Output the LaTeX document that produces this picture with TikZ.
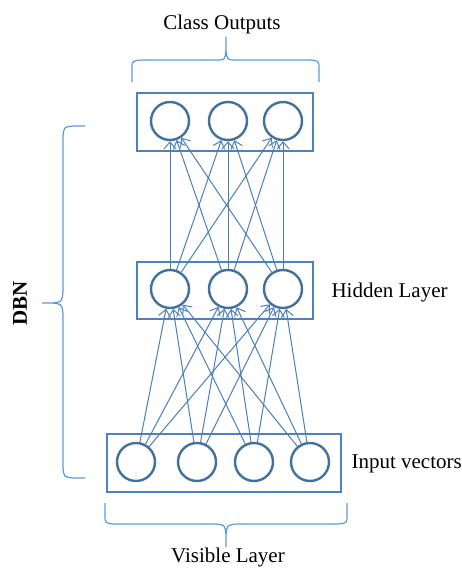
\documentclass[tikz,border=0pt]{standalone}
\usepackage{fontspec}
\setmainfont{Liberation Serif}
\usetikzlibrary{arrows.meta}

\definecolor{boxblue}{HTML}{4F81BD}
\definecolor{unitblue}{HTML}{41719C}
\definecolor{linkblue}{HTML}{4A7EBB}
\definecolor{braceblue}{HTML}{5B9BD5}

\begin{document}
\begin{tikzpicture}[x=1pt,y=-1pt,
  layerbox/.style={draw=boxblue, line width=1.6pt, inner sep=0pt},
  unit/.style={circle, draw=unitblue, line width=2.4pt, minimum size=38pt, inner sep=0pt},
  link/.style={draw=linkblue, line width=1pt, -{Straight Barb[length=7pt,width=12pt]}},
  bracepath/.style={draw=braceblue, line width=1.2pt},
  label/.style={font=\fontsize{21}{25}\selectfont}]
\useasboundingbox (0,0) rectangle (462,572);

% layer boxes
\node[layerbox, minimum width=176pt, minimum height=58pt] (outbox) at (225,122) {};
\node[layerbox, minimum width=176pt, minimum height=57pt] (hidbox) at (225,290.5) {};
\node[layerbox, minimum width=234pt, minimum height=58pt] (visbox) at (224,463) {};

% units
\node[unit] (o1) at (170,121) {};
\node[unit] (o2) at (228,121) {};
\node[unit] (o3) at (283,121) {};
\node[unit] (h1) at (170,289) {};
\node[unit] (h2) at (228,289) {};
\node[unit] (h3) at (283,289) {};
\node[unit] (v1) at (136,462) {};
\node[unit] (v2) at (197,462) {};
\node[unit] (v3) at (254,462) {};
\node[unit] (v4) at (310,462) {};

% connections
\foreach \i in {1,...,4}
  \foreach \j in {1,2,3}
    \draw[link] (v\i) -- (h\j);
\foreach \i in {1,2,3}
  \foreach \j in {1,2,3}
    \draw[link] (h\i) -- (o\j);

% braces
\draw[bracepath] (132,82) -- (132,69) .. controls (132,61) .. (141,60) -- (216,60)
  .. controls (225,60) .. (226,50) -- (226,37) -- (226,50)
  .. controls (227,60) .. (236,60) -- (310,60) .. controls (319,61) .. (319,69) -- (319,82);
\draw[bracepath] (105,503) -- (105,515) .. controls (105,523) .. (114,524) -- (216,524)
  .. controls (225,525) .. (226,535) -- (226,547) -- (226,535)
  .. controls (227,525) .. (236,524) -- (338,524) .. controls (347,523) .. (347,515) -- (347,503);
\draw[bracepath] (85,126) -- (73,126) .. controls (64,127) .. (63,136) -- (63,292)
  .. controls (62,302) .. (52,303) -- (42,303) -- (52,303)
  .. controls (62,304) .. (63,314) -- (63,468) .. controls (64,477) .. (73,478) -- (85,478);

% labels
\node[label] (outlabel) at (222,24) {Class Outputs};
\node[label] (vislabel) at (228,557) {Visible Layer};
\node[label, anchor=west] (hidlabel) at (328,292) {Hidden Layer};
\node[label, anchor=west] (invlabel) at (348,464) {Input vectors};
\node[label, font=\fontsize{21}{25}\selectfont\bfseries, rotate=90] (dbnlabel) at (20,303) {DBN};
\end{tikzpicture}
\end{document}
